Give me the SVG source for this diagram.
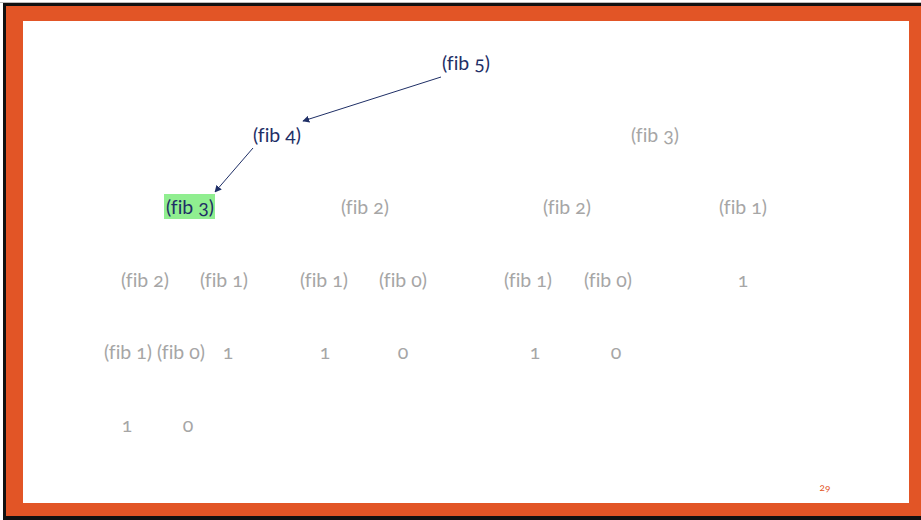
<svg xmlns="http://www.w3.org/2000/svg" width="921" height="520" viewBox="0 0 921 520">
<defs>
<style>
text{font-family:Lato,"Open Sans","Liberation Sans",sans-serif;font-size:19.5px;text-anchor:middle;font-variant-numeric:oldstyle-nums;font-variant-ligatures:none;font-feature-settings:"onum" 1,"liga" 0}
.a{fill:#1F2F66}
.g{fill:#A6A6A6}
.c{stroke:#1F2F66;stroke-width:1;fill:none;marker-end:url(#ah)}
</style>
<marker id="ah" viewBox="0 0 10 10" refX="9" refY="5" markerWidth="7" markerHeight="7" orient="auto" markerUnits="userSpaceOnUse">
<path d="M0,0 L10,5 L0,10 z" fill="#1F2F66"/>
</marker>
</defs>
<rect x="0" y="0" width="921" height="520" fill="#FFFFFF"/>
<rect x="0" y="2" width="921" height="1" fill="#BBBBBB"/>
<rect x="3" y="3" width="918" height="517" fill="#111111"/>
<rect x="6" y="6" width="915" height="510" fill="#E25526"/>
<rect x="23" y="21" width="886" height="482" fill="#FFFFFF"/>
<g id="connectors">
<line class="c" x1="441" y1="77" x2="303" y2="121"/>
<line class="c" x1="253" y1="148" x2="215" y2="192"/>
</g>
<g id="n-fib5"><text class="a" x="466" y="70">(fib 5)</text></g>
<g id="n-fib4"><text class="a" x="277" y="142">(fib 4)</text></g>
<g id="n-fib3-r"><text class="g" x="655" y="142">(fib 3)</text></g>
<g id="n-fib3-l"><rect x="164" y="194" width="51" height="25" fill="#90EE90"/><text class="a" x="190" y="214">(fib 3)</text></g>
<g id="n-fib2-a"><text class="g" x="365" y="214">(fib 2)</text></g>
<g id="n-fib2-b"><text class="g" x="567" y="214">(fib 2)</text></g>
<g id="n-fib1-a"><text class="g" x="743" y="214">(fib 1)</text></g>
<g id="n-r4-1"><text class="g" x="145" y="287">(fib 2)</text></g>
<g id="n-r4-2"><text class="g" x="224" y="287">(fib 1)</text></g>
<g id="n-r4-3"><text class="g" x="324" y="287">(fib 1)</text></g>
<g id="n-r4-4"><text class="g" x="403" y="287">(fib 0)</text></g>
<g id="n-r4-5"><text class="g" x="528" y="287">(fib 1)</text></g>
<g id="n-r4-6"><text class="g" x="608" y="287">(fib 0)</text></g>
<g id="n-r4-7"><text class="g" x="743" y="287">1</text></g>
<g id="n-r5-1"><text class="g" x="128" y="359">(fib 1)</text></g>
<g id="n-r5-2"><text class="g" x="181" y="359">(fib 0)</text></g>
<g id="n-r5-3"><text class="g" x="228" y="359">1</text></g>
<g id="n-r5-4"><text class="g" x="325" y="359">1</text></g>
<g id="n-r5-5"><text class="g" x="403" y="359">0</text></g>
<g id="n-r5-6"><text class="g" x="535" y="359">1</text></g>
<g id="n-r5-7"><text class="g" x="616" y="359">0</text></g>
<g id="n-r6-1"><text class="g" x="127" y="432">1</text></g>
<g id="n-r6-2"><text class="g" x="188" y="432">0</text></g>
<text x="825" y="491" style="font-size:10px;fill:#E25526">29</text>
</svg>
